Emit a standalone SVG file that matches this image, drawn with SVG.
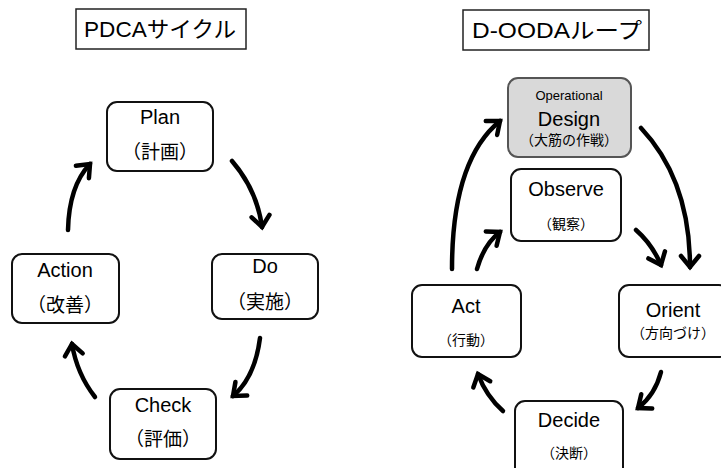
<svg xmlns="http://www.w3.org/2000/svg" width="721" height="468" viewBox="0 0 721 468">
<defs>
<style>
text{font-family:"Liberation Sans","Noto Sans CJK JP",sans-serif;fill:#000;text-anchor:middle}
.title{font-size:22px}
.tbox{fill:#fff;stroke:#222;stroke-width:1.5}
.node{fill:#fff;stroke:#111;stroke-width:2}
.gray{fill:#d9d9d9;stroke:#555;stroke-width:2}
.en{font-size:20px}
.jp{font-size:19px}
.sm{font-size:14px}
.arr{fill:none;stroke:#000;stroke-width:4.5;stroke-linecap:round;marker-end:url(#ah)}
</style>
<marker id="ah" viewBox="-14 -12 18 24" markerUnits="userSpaceOnUse" markerWidth="18" markerHeight="24" refX="0" refY="0" orient="auto">
<path d="M-11,-9 L0,0 L-11,9" fill="none" stroke="#000" stroke-width="4.5" stroke-linecap="round" stroke-linejoin="miter"/>
</marker>
</defs>
<rect width="721" height="468" fill="#fff"/>

<g id="title-pdca">
<rect class="tbox" x="76" y="9" width="170" height="40"/>
<text class="title" x="160" y="37" textLength="152" lengthAdjust="spacingAndGlyphs">PDCAサイクル</text>
</g>
<g id="title-dooda">
<rect class="tbox" x="463" y="10" width="186" height="40"/>
<text class="title" x="557" y="38" textLength="170" lengthAdjust="spacingAndGlyphs">D-OODAループ</text>
</g>

<g id="plan">
<rect class="node" x="107" y="102" width="106" height="69" rx="10"/>
<text class="en" x="160" y="124">Plan</text>
<text class="jp" x="160" y="159">（計画）</text>
</g>
<g id="do">
<rect class="node" x="212" y="254" width="106" height="65" rx="10"/>
<text class="en" x="265" y="273">Do</text>
<text class="jp" x="265" y="309">（実施）</text>
</g>
<g id="check">
<rect class="node" x="110" y="389" width="106" height="70" rx="10"/>
<text class="en" x="163" y="412">Check</text>
<text class="jp" x="163" y="446">（評価）</text>
</g>
<g id="action">
<rect class="node" x="12" y="254" width="107" height="69" rx="10"/>
<text class="en" x="65" y="277">Action</text>
<text class="jp" x="65" y="312">（改善）</text>
</g>

<g id="design">
<rect class="gray" x="508" y="78" width="123" height="79" rx="10"/>
<text x="569" y="100" style="font-size:13px">Operational</text>
<text class="en" x="569" y="126">Design</text>
<text class="sm" x="569" y="145">（大筋の作戦）</text>
</g>
<g id="observe">
<rect class="node" x="511" y="169" width="110" height="72" rx="10"/>
<text class="en" x="566" y="196">Observe</text>
<text class="sm" x="566" y="229">（観察）</text>
</g>
<g id="orient">
<rect class="node" x="619" y="285" width="110" height="72" rx="10"/>
<text class="en" x="673" y="317">Orient</text>
<text class="sm" x="673" y="338">（方向づけ）</text>
</g>
<g id="decide">
<rect class="node" x="515" y="401" width="108" height="80" rx="10"/>
<text class="en" x="569" y="427">Decide</text>
<text class="sm" x="569" y="458">（決断）</text>
</g>
<g id="act">
<rect class="node" x="412" y="285" width="109" height="72" rx="10"/>
<text class="en" x="466" y="313">Act</text>
<text class="sm" x="466" y="345">（行動）</text>
</g>

<g id="connectors">
<path class="arr" d="M232,161 Q257,190 262,227"/>
<path class="arr" d="M260,338 Q255,377 233,396"/>
<path class="arr" d="M95,397 Q77,374 72,344"/>
<path class="arr" d="M68,230 Q69,186 90,164"/>
<path class="arr" d="M452,269 Q452,160 500,121"/>
<path class="arr" d="M477,269 Q484,244 500,232"/>
<path class="arr" d="M641,128 Q690,180 690,267"/>
<path class="arr" d="M636,230 Q652,244 661,265"/>
<path class="arr" d="M661,372 Q655,395 638,408"/>
<path class="arr" d="M503,411 Q486,396 478,374"/>
</g>
</svg>
